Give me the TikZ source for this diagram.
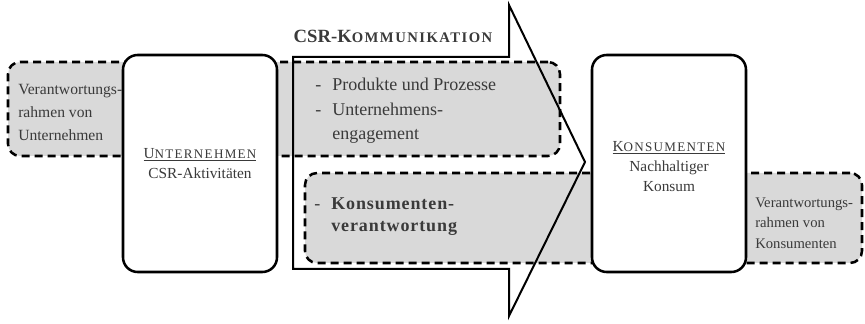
\documentclass[tikz,border=0pt]{standalone}
\usepackage{fontspec}
\setmainfont{Liberation Serif}
\definecolor{bandgray}{RGB}{217,217,217}
\definecolor{textgray}{RGB}{58,58,58}
\newcommand{\capsc}[3][9.8]{#2{\fontsize{#1}{11}\selectfont\addfontfeature{LetterSpace=10}#3}}
\newcommand{\bodysize}{\fontsize{11.5}{16.5}\selectfont}
\newcommand{\dashitem}{\makebox[12.75pt][l]{-}}

\begin{document}
\begin{tikzpicture}[x=0.75pt, y=-0.75pt,
  every node/.style={text=textgray, font=\bodysize, inner sep=0pt},
  band/.style={draw, fill=bandgray, line width=1.9pt, dash pattern=on 6pt off 3.75pt, rounded corners=9pt},
  actor/.style={draw, fill=white, line width=1.9pt, rounded corners=11pt}]
\useasboundingbox (0,0) rectangle (865,324);

% dashed bands
\node[band, minimum width=414pt, minimum height=70.5pt] (upperband) at (284,109) {};
\node[band, minimum width=417.75pt, minimum height=67.5pt] (lowerband) at (583.5,218) {};

% communication arrow
\draw[line width=1.5pt, line join=miter] (293,57) -- (509,57) -- (509,5) -- (585,162)
	-- (509,316) -- (509,269) -- (293,269) -- cycle;

% actors
\node[actor, minimum width=115.5pt, minimum height=162.75pt] (unternehmen) at (200,163.5) {};
\node[actor, minimum width=115.5pt, minimum height=162.75pt] (konsumenten) at (669,163.5) {};

% labels
\node[anchor=west, align=left, font=\fontsize{11.7}{17}\selectfont] (rahmenU) at (18,112.5)
	{Verantwortungs-\\rahmen von\\Unternehmen};
\node[align=center, font=\fontsize{11.5}{15.5}\selectfont] (labelU) at (unternehmen.center)
	{\underline{\capsc{U}{NTERNEHMEN}}\\CSR-Aktivit\"aten};
\node[align=center, font=\fontsize{11.5}{15}\selectfont] (labelK) at ([yshift=-2pt]konsumenten.center)
	{\underline{\capsc{K}{ONSUMENTEN}}\\Nachhaltiger\\Konsum};
\node[anchor=west, align=left, font=\fontsize{11}{15.5}\selectfont] (rahmenK) at (755,223)
	{Verantwortungs-\\rahmen von\\Konsumenten};

% communication contents
\node (kommtitle) at (393,36) {\bfseries\fontsize{14}{16}\selectfont CSR-\capsc[11]{K}{OMMUNIKATION}};
\node[anchor=west, align=left, font=\fontsize{13.5}{18.5}\selectfont] (inhaltU) at (315,111)
	{\dashitem Produkte und Prozesse\\ \dashitem Unternehmens-\\ \hspace*{12.75pt}engagement};
\node[anchor=west, align=left, font=\fontsize{13.5}{16.5}\selectfont] (inhaltK) at (314,217)
	{\dashitem{\bfseries\addfontfeature{LetterSpace=5}Konsumenten-}\\
	 \hspace*{12.75pt}{\bfseries\addfontfeature{LetterSpace=5}verantwortung}};

\end{tikzpicture}
\end{document}
